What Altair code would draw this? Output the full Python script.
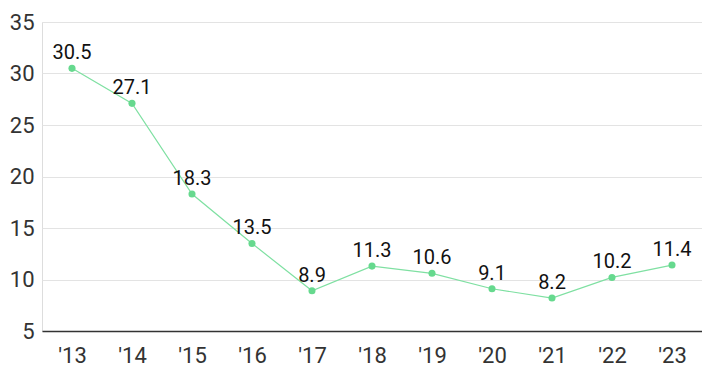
import altair as alt
import pandas as pd

years = ["'13", "'14", "'15", "'16", "'17", "'18", "'19", "'20", "'21", "'22", "'23"]
values = [30.5, 27.1, 18.3, 13.5, 8.9, 11.3, 10.6, 9.1, 8.2, 10.2, 11.4]

df = pd.DataFrame({"year": years, "value": values, "label": [f"{v:.1f}" for v in values]})

x = alt.X("year:N", sort=years, title=None,
          scale=alt.Scale(paddingInner=0, paddingOuter=0),
          axis=alt.Axis(labelAngle=0, labelFontSize=22, labelColor="#333", labelFont="Roboto",
                        ticks=False, domainColor="#333", domainWidth=1.5, labelPadding=14,
                        grid=False))
y = alt.Y("value:Q", title=None,
          scale=alt.Scale(domain=[5, 35], nice=False, zero=False),
          axis=alt.Axis(values=[5, 10, 15, 20, 25, 30, 35], labelFontSize=22, labelColor="#333",
                        labelFont="Roboto", ticks=False, domain=False, labelPadding=8,
                        gridColor="#e3e3e3", gridWidth=1))

base = alt.Chart(df).encode(x=x, y=y)

line = base.mark_line(color="#7fe0a2", strokeWidth=1.2)
pts = base.mark_point(filled=True, size=50, color="#66d98e", opacity=1)
text = base.mark_text(dy=-15, fontSize=20, font="Roboto", color="#111").encode(text="label:N")

chart = (line + pts + text).properties(
    width=660, height=309,
    padding={"left": 34, "top": 14, "right": 0, "bottom": 40},
    autosize=alt.AutoSizeParams(type="none"),
).configure_view(stroke=None).configure(background="white")

chart.save("out.html", embed_options={"renderer": "svg", "actions": False})
